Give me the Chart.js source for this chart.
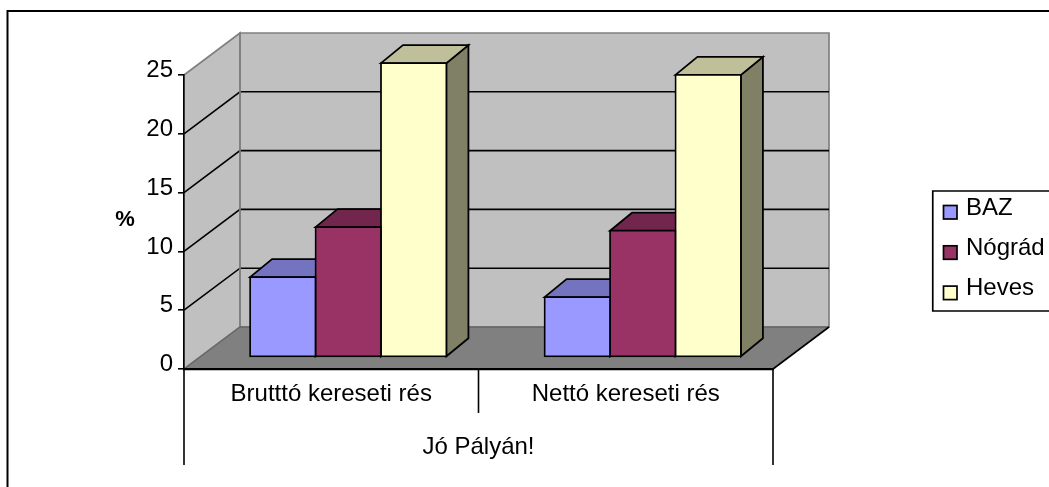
<!DOCTYPE html>
<html><head><meta charset="utf-8">
<style>html,body{margin:0;padding:0;background:#fff;overflow:hidden}canvas{display:block}</style>
<script src="https://cdn.jsdelivr.net/npm/chart.js@4"></script>
</head><body><canvas id="c" width="1049" height="487"></canvas>
<script>
const categories = ['Brutttó kereseti rés', 'Nettó kereseti rés'];
const groupLabel = 'Jó Pályán!';
const yTitle = '%';
const seriesNames = ['BAZ', 'Nógrád', 'Heves'];
const baz = [6.8, 5.1];
const nograd = [11.05, 10.75];
const heves = [25, 24];
const frontColors = ['#9999FF', '#993366', '#FFFFCC'];
const topColors = ['#7373BF', '#73264D', '#BFBF99'];
const sideColors = ['#4D4D80', '#4D1A33', '#808066'];
const FONT = '"Liberation Sans", Arial, sans-serif';
const D = {x: 56, y: -42};          // wall depth
const BAR = {dx: 17, dy: -11.9, x: 22, y: -18, lw: 1.8}; // bar placement on floor, bar depth

function poly(ctx, pts, fill, stroke, lw) {
  ctx.beginPath();
  pts.forEach((p, i) => i ? ctx.lineTo(p[0], p[1]) : ctx.moveTo(p[0], p[1]));
  ctx.closePath();
  if (fill) { ctx.fillStyle = fill; ctx.fill(); }
  if (stroke) { ctx.strokeStyle = stroke; ctx.lineWidth = lw; ctx.stroke(); }
}
function seg(ctx, x0, y0, x1, y1, color, lw) {
  ctx.beginPath(); ctx.moveTo(x0, y0); ctx.lineTo(x1, y1);
  ctx.strokeStyle = color; ctx.lineWidth = lw; ctx.stroke();
}

const scene = {
  id: 'scene',
  beforeDraw(chart) {
    const {ctx, chartArea: a, scales: {y}} = chart;
    ctx.save();
    // outer frame (open on right/bottom)
    ctx.beginPath(); ctx.moveTo(7.5, 487); ctx.lineTo(7.5, 11); ctx.lineTo(1049, 11);
    ctx.strokeStyle = '#000'; ctx.lineWidth = 2; ctx.stroke();
    const L = a.left, R = a.right, T = a.top, B = a.bottom;
    // walls
    poly(ctx, [[L, T], [L + D.x, T + D.y], [L + D.x, B + D.y], [L, B]], '#C0C0C0', '#808080', 1.7);
    poly(ctx, [[L + D.x, T + D.y], [R + D.x, T + D.y], [R + D.x, B + D.y], [L + D.x, B + D.y]], '#C0C0C0', '#808080', 1.7);
    // gridlines
    y.ticks.forEach(t => {
      if (t.value === 0 || t.value === y.max) return;
      const p = y.getPixelForValue(t.value);
      ctx.beginPath();
      ctx.moveTo(L, p); ctx.lineTo(L + D.x, p + D.y); ctx.lineTo(R + D.x, p + D.y);
      ctx.strokeStyle = '#000'; ctx.lineWidth = 1.6; ctx.stroke();
    });
    seg(ctx, L + D.x, T + D.y, L + D.x, B + D.y, '#808080', 1.7);
    // floor
    poly(ctx, [[L, B], [R, B], [R + D.x, B + D.y], [L + D.x, B + D.y]], '#808080');
    seg(ctx, L + D.x, B + D.y, R + D.x, B + D.y, '#555', 1.2);
    seg(ctx, L, B, L + D.x, B + D.y, '#666', 1.2);
    seg(ctx, R, B, R + D.x, B + D.y, '#000', 1.6);
    // multi-level category separators
    const mid = (L + R) / 2;
    seg(ctx, L, B, L, 465, '#000', 1.6);
    seg(ctx, R, B, R, 465, '#000', 1.6);
    seg(ctx, mid, B, mid, 413, '#000', 1.6);
    ctx.restore();
  },
  beforeDatasetsDraw(chart) {
    const {ctx} = chart;
    ctx.save();
    ctx.translate(BAR.dx, BAR.dy);
    ctx.lineJoin = 'miter';
    // top and side faces, left to right, under the front faces
    for (let c = 0; c < categories.length; c++) {
      for (let s = 0; s < seriesNames.length; s++) {
        const el = chart.getDatasetMeta(s).data[c];
        const l = el.x - el.width / 2, r = el.x + el.width / 2, t = el.y, b = el.base;
        poly(ctx, [[r, t], [r + BAR.x, t + BAR.y], [r + BAR.x, b + BAR.y], [r, b]], sideColors[s], '#000', BAR.lw);
        poly(ctx, [[l, t], [l + BAR.x, t + BAR.y], [r + BAR.x, t + BAR.y], [r, t]], topColors[s], '#000', BAR.lw);
      }
    }
  },
  afterDatasetsDraw(chart) { chart.ctx.restore(); },
  afterDraw(chart) {
    const {ctx} = chart;
    ctx.save();
    // y-axis caption
    ctx.fillStyle = '#000'; ctx.font = 'bold 22px ' + FONT;
    ctx.textAlign = 'center'; ctx.textBaseline = 'alphabetic';
    ctx.fillText(yTitle, 125, 226);
    // legend
    const boxX = 932.75, boxY = 191, boxB = 311;
    ctx.beginPath(); ctx.moveTo(1050, boxY); ctx.lineTo(boxX, boxY); ctx.lineTo(boxX, boxB); ctx.lineTo(1050, boxB);
    ctx.strokeStyle = '#000'; ctx.lineWidth = 1.7; ctx.stroke();
    seriesNames.forEach((n, i) => {
      const by = 205.5 + i * 40.3;
      ctx.fillStyle = frontColors[i];
      ctx.fillRect(943.5, by, 13.5, 13.5);
      ctx.strokeStyle = '#000'; ctx.lineWidth = 1.7;
      ctx.strokeRect(943.5, by, 13.5, 13.5);
      ctx.fillStyle = '#000'; ctx.font = '24px ' + FONT;
      ctx.textAlign = 'left'; ctx.textBaseline = 'alphabetic';
      ctx.fillText(n, 966, 215 + i * 40);
    });
    ctx.restore();
  }
};

new Chart(document.getElementById('c'), {
  type: 'bar',
  data: {
    labels: categories,
    datasets: [baz, nograd, heves].map((vals, i) => ({
      label: seriesNames[i], data: vals,
      backgroundColor: frontColors[i], borderColor: '#000', borderWidth: BAR.lw,
      borderSkipped: false, clip: false, inflateAmount: BAR.lw / 2,
      barPercentage: 1, categoryPercentage: 0.6667
    }))
  },
  options: {
    responsive: false, animation: false,
    layout: {padding: {left: 0, top: 75, right: 276, bottom: 0}},
    plugins: {legend: {display: false}, tooltip: {enabled: false}},
    scales: {
      x: {
        afterFit(s) { s.height = 118; },
        grid: {display: false},
        border: {display: true, color: '#000', width: 2.2},
        ticks: {color: '#000', font: {family: FONT, size: 24}, padding: 3, maxRotation: 0},
        title: {display: true, text: groupLabel, color: '#000', font: {family: FONT, size: 24}, padding: {top: 0, bottom: 25}}
      },
      y: {
        min: 0, max: 25,
        afterFit(s) { s.width = 184; },
        grid: {drawOnChartArea: false, color: '#000', lineWidth: 1.6, tickLength: 6},
        border: {display: true, color: '#000', width: 1.6},
        ticks: {stepSize: 5, color: '#000', font: {family: FONT, size: 24}, padding: 5, labelOffset: -4.5}
      }
    }
  },
  plugins: [scene]
});
</script></body></html>
